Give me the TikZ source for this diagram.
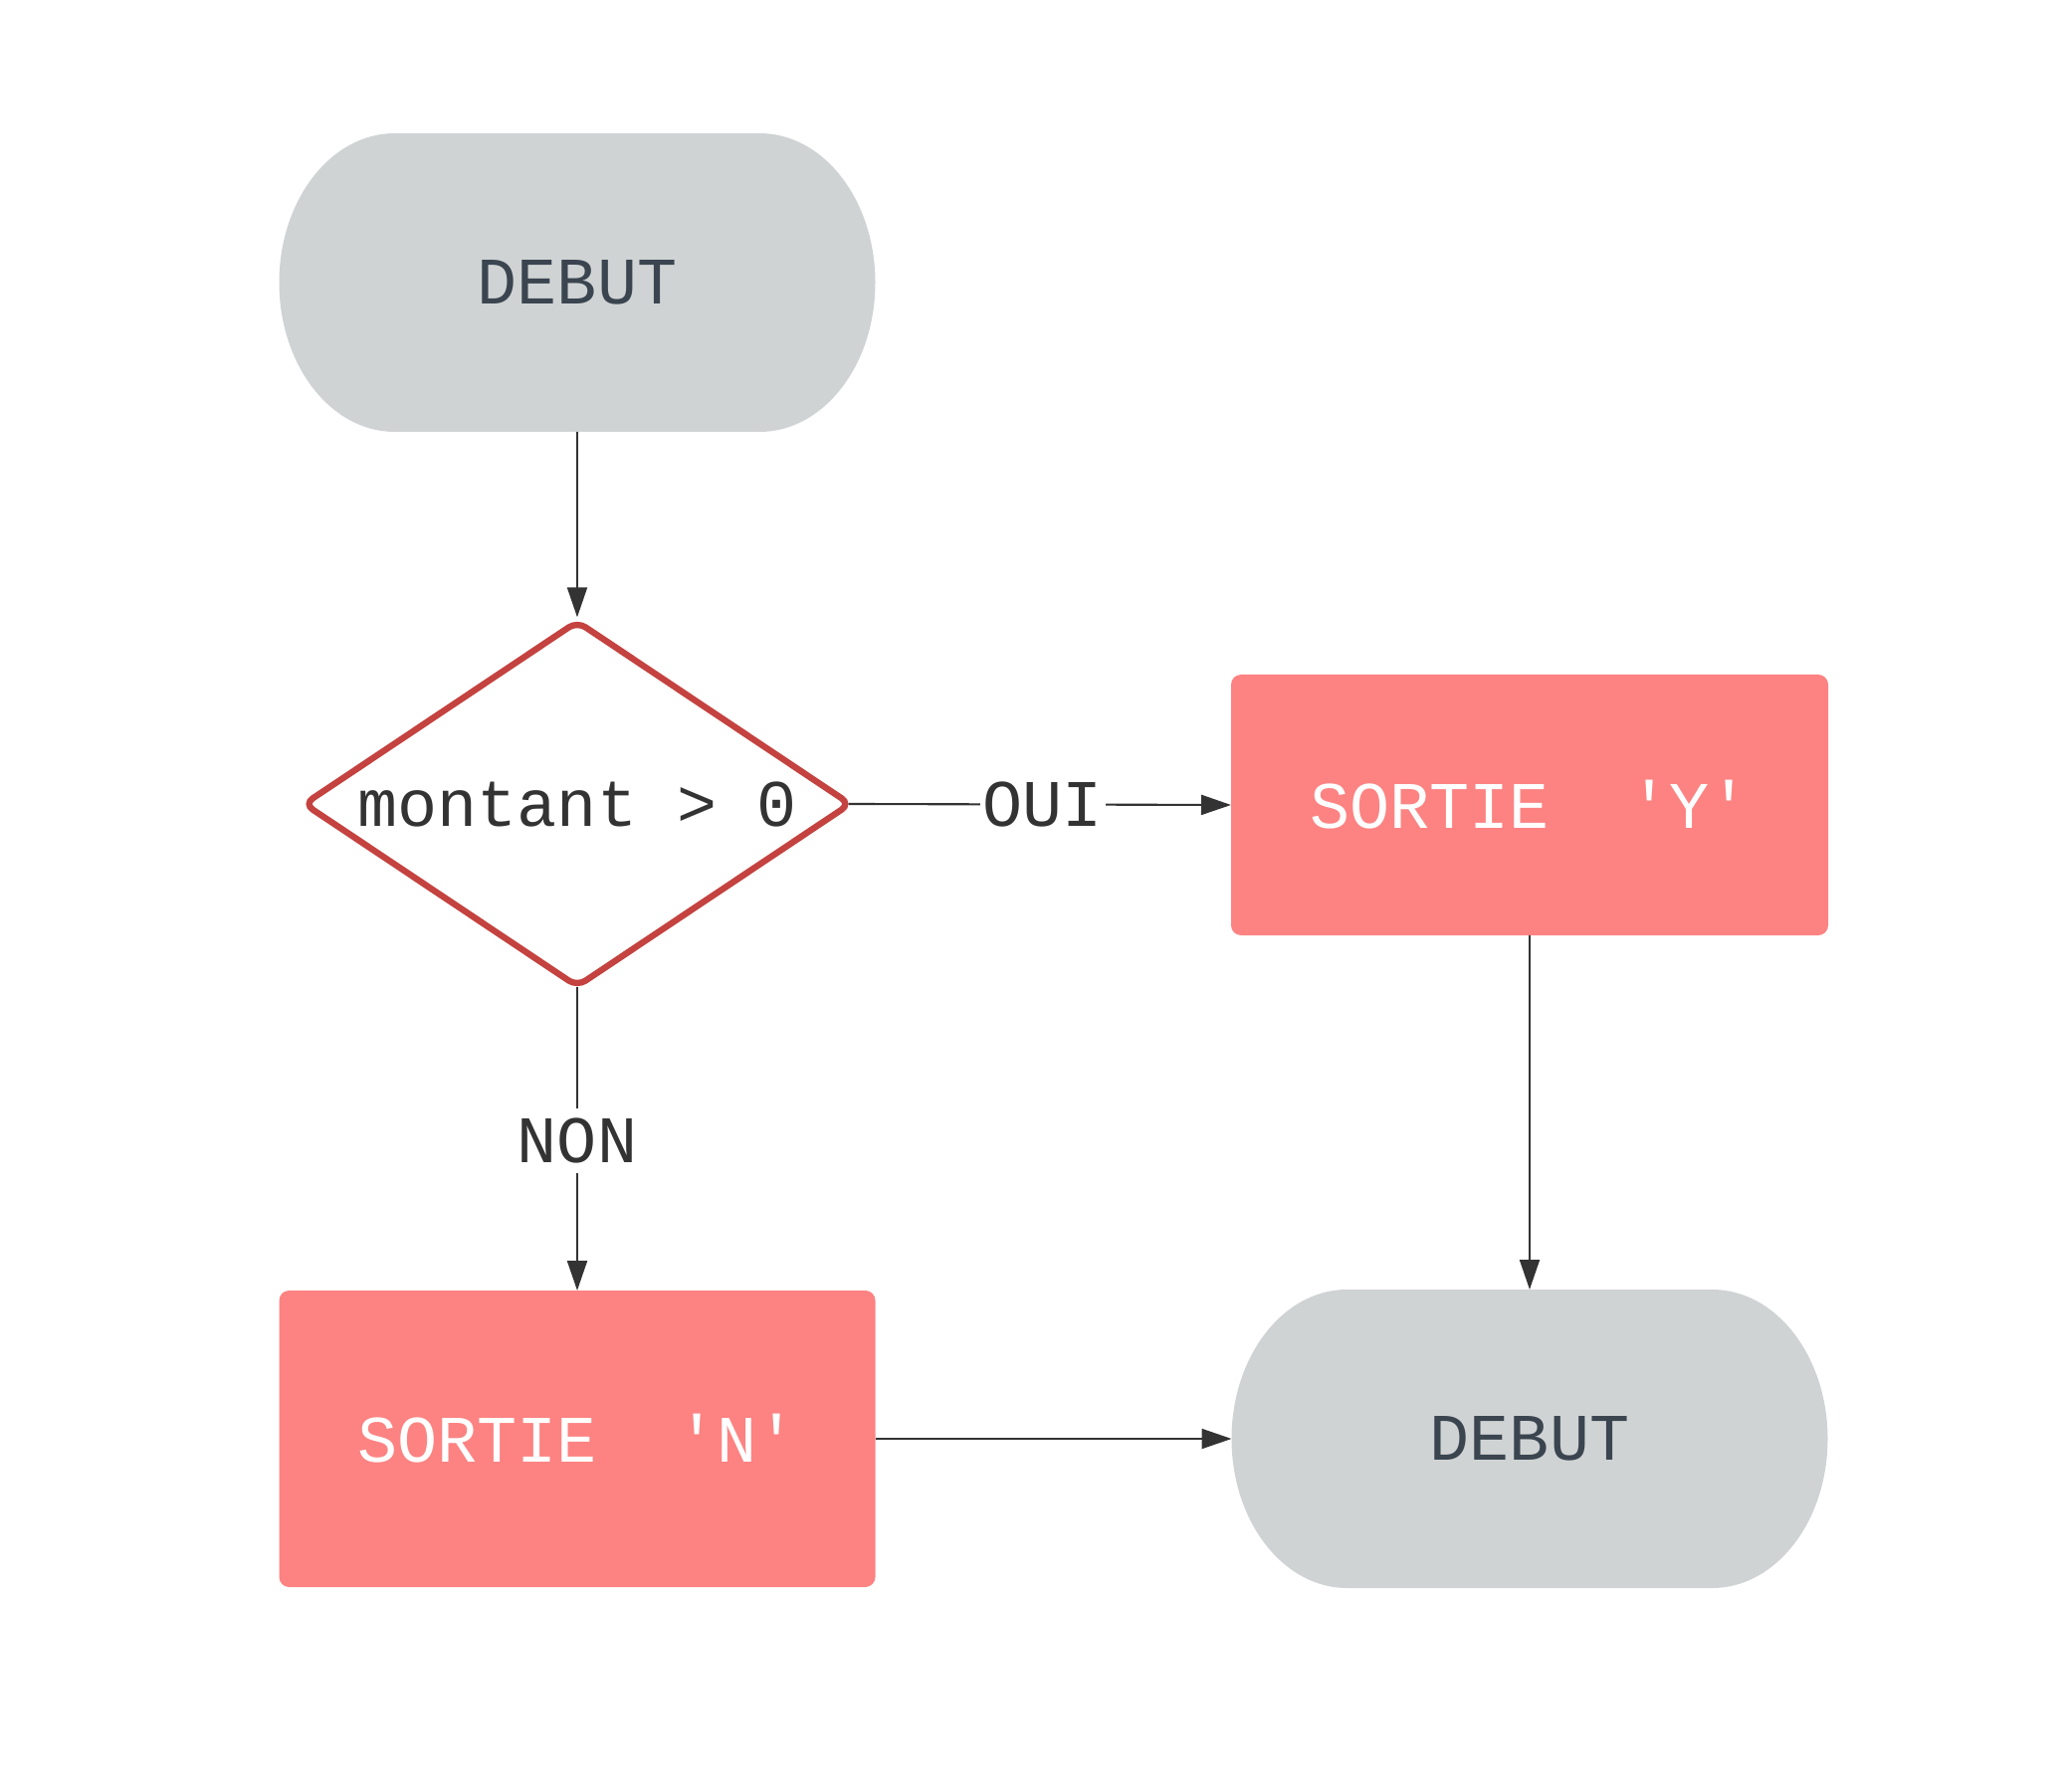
\documentclass[tikz,border=0pt]{standalone}
\usepackage{fontspec}
\newfontfamily\diagfont{Liberation Mono}
\usetikzlibrary{arrows.meta,shapes.geometric,calc}
\pgfdeclarelayer{background}
\pgfsetlayers{background,main}

\definecolor{termgray}{HTML}{D0D3D4}
\definecolor{termtext}{HTML}{3A4550}
\definecolor{outfill}{HTML}{FC8382}
\definecolor{decline}{HTML}{C4423F}
\definecolor{ink}{HTML}{333333}

\tikzset{
  lbl/.style={font=\diagfont\fontsize{19}{22}\selectfont},
  terminal/.style={lbl, minimum width=5.99cm, minimum height=3cm, inner sep=0pt, outer sep=0pt, text=termtext},
  outbox/.style={lbl, fill=outfill, text=white, rounded corners=0.1cm, inner sep=0pt, outer sep=0pt},
  decision/.style={lbl, diamond, aspect=1.493, draw=decline, line width=1.8pt, fill=white, text=ink,
    rounded corners=0.1cm, inner sep=0pt, minimum width=5.51cm, minimum height=3.69cm},
  flow/.style={draw=ink, line width=0.6pt, -{Triangle[length=0.3cm,width=0.2cm]}},
  edgelbl/.style={lbl, text=ink, fill=white, inner xsep=0.03cm, inner ysep=0.1cm},
}

\begin{document}
\begin{tikzpicture}
\useasboundingbox (0,0) rectangle (20.81,18);

\node[terminal] (start) at (5.80,15.16) {DEBUT};
\node[decision] (test) at (5.80,9.92) {montant > 0};
\node[outbox, minimum width=6.00cm, minimum height=2.62cm] (yes) at (15.37,9.91) {SORTIE~~'Y'};
\node[outbox, minimum width=5.99cm, minimum height=2.98cm] (no) at (5.80,3.54) {SORTIE~~'N'};
\node[terminal] (stop) at (15.37,3.54) {DEBUT};

% stadium-shaped fill behind the two terminal nodes
\begin{pgfonlayer}{background}
  \foreach \n in {start,stop}{
    \fill[termgray] ($(\n.north west)+(1.16,0)$) -- ($(\n.north east)+(-1.16,0)$)
      arc[start angle=90,end angle=-90,x radius=1.16,y radius=1.5]
      -- ($(\n.south west)+(1.16,0)$)
      arc[start angle=270,end angle=90,x radius=1.16,y radius=1.5] -- cycle;
  }
\end{pgfonlayer}

\draw[flow] (start.south) -- (test.north);
\draw[flow, shorten <=-0.06cm] (test.east) -- node[edgelbl] {OUI} (yes.west);
\draw[flow, shorten <=-0.04cm] (test.south) -- node[edgelbl] {NON} (no.north);
\draw[flow] (yes.south) -- (stop.north);
\draw[flow] (no.east) -- (stop.west);
\end{tikzpicture}
\end{document}
